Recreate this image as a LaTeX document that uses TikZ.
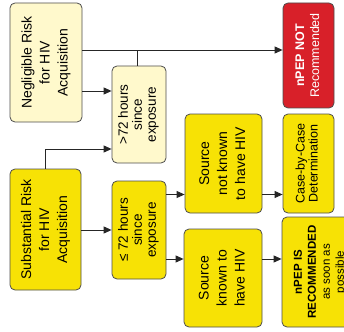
\documentclass[tikz,border=0pt]{standalone}
\usepackage{fontspec}
\setmainfont{Liberation Sans}
\usepackage{graphicx}
\usetikzlibrary{arrows.meta}
\definecolor{paleY}{HTML}{FFF9CC}
\definecolor{brightY}{HTML}{F7E205}
\definecolor{redbox}{HTML}{D82029}
\definecolor{edge}{HTML}{4D4D4D}
\newcommand{\vtxt}[3]{\rotatebox{90}{\fontsize{#1}{#2}\selectfont\begin{tabular}{@{}c@{}}#3\end{tabular}}}
\begin{document}
\begin{tikzpicture}[x=1pt,y=-1pt,
  box/.style={draw=edge, line width=0.8pt, rounded corners=5pt, inner sep=0pt},
  conn/.style={draw=black!85, line width=0.9pt},
  arr/.style={conn, -{Triangle[length=8pt,width=7pt]}}]
\useasboundingbox (0,0) rectangle (344,331);

\node[box, fill=paleY, minimum width=72pt, minimum height=119pt] (neg) at (46,62.5)
  {\vtxt{14}{18}{Negligible Risk\\for HIV\\Acquisition}};
\node[box, fill=paleY, minimum width=54pt, minimum height=97pt] (gt72) at (139,114.5)
  {\vtxt{13.5}{14}{{>}72 hours\\since\\exposure}};
\node[box, fill=redbox, text=white, minimum width=51pt, minimum height=105pt] (nnot) at (308.5,55.5)
  {\vtxt{12.5}{15}{\textbf{nPEP NOT}\\Recommended}};
\node[box, fill=brightY, minimum width=71pt, minimum height=121pt] (sub) at (45.5,229.5)
  {\vtxt{14}{18}{Substantial Risk\\for HIV\\Acquisition}};
\node[box, fill=brightY, minimum width=54pt, minimum height=98pt] (le72) at (139,230)
  {\vtxt{13.5}{14}{\symbol{"2264} 72 hours\\since\\exposure}};
\node[box, fill=brightY, minimum width=77pt, minimum height=99pt] (snk) at (223.5,163.5)
  {\vtxt{14}{18}{Source\\not known\\to have HIV}};
\node[box, fill=brightY, minimum width=51pt, minimum height=99pt] (cbc) at (308.5,163.5)
  {\vtxt{12.5}{13}{Case-by-Case\\Determination}};
\node[box, fill=brightY, minimum width=78pt, minimum height=98pt] (sk) at (223,278)
  {\vtxt{14}{18}{Source\\known to\\have HIV}};
\node[box, fill=brightY, minimum width=76pt, minimum height=110pt] (nis) at (320,272)
  {\vtxt{11.5}{14}{\textbf{nPEP IS}\\\textbf{RECOMMENDED}\\as soon as\\possible}};

\coordinate (j1) at (137,50);
\coordinate (y91) at (0,91);
\coordinate (y149) at (0,149);
\coordinate (y194) at (0,194.5);
\coordinate (y259) at (0,259);

\draw[arr] (neg.east |- j1) -- (nnot.west |- j1);
\draw[conn] (gt72.north -| j1) -- (j1);
\draw[arr] (neg.east |- y91) -- (gt72.west |- y91);
\draw[arr] (sub.north) |- (gt72.west |- y149);
\draw[arr] (sub.east |- le72.west) -- (le72.west);
\draw[arr] (le72.east |- y194) -- (snk.west |- y194);
\draw[arr] (le72.east |- y259) -- (sk.west |- y259);
\draw[arr] (snk.east |- y194) -- (cbc.west |- y194);
\draw[arr] (sk.east |- y259) -- (nis.west |- y259);
\end{tikzpicture}
\end{document}
